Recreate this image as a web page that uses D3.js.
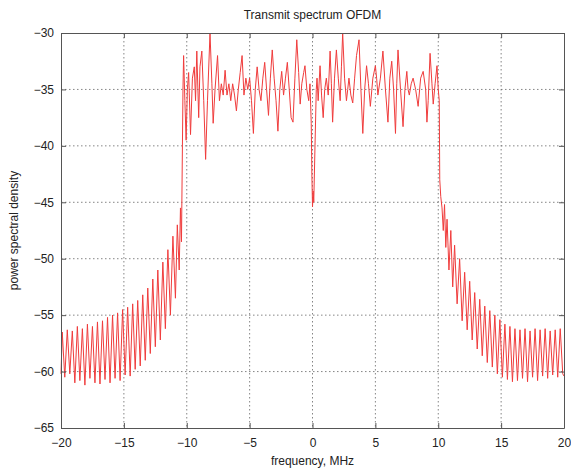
<!DOCTYPE html>
<html><head><meta charset="utf-8">
<script src="https://cdn.jsdelivr.net/npm/d3@7"></script>
<style>body{margin:0;background:#fff}svg{display:block}text{font-family:"Liberation Sans",Arial,sans-serif;fill:#222}</style>
</head><body>
<svg id="c" width="571" height="472"></svg>
<script>
const title = "Transmit spectrum OFDM";
const xLabel = "frequency, MHz";
const yLabel = "power spectral density";
const xTicks = [-20,-15,-10,-5,0,5,10,15,20];
const yTicks = [-30,-35,-40,-45,-50,-55,-60,-65];

// [frequency MHz, PSD dB]
const leftSkirt = [
[-20.0,-60.2],[-19.9,-56.5],[-19.7,-60.5],[-19.5,-56.3],[-19.3,-60.2],[-19.1,-56.4],[-18.9,-61],[-18.7,-56],
[-18.5,-60.8],[-18.3,-56.2],[-18.1,-61.2],[-17.9,-55.8],[-17.7,-60.6],[-17.5,-56],[-17.3,-61],[-17.1,-55.6],
[-16.9,-61.1],[-16.7,-55.5],[-16.5,-60.7],[-16.3,-55.2],[-16.1,-61],[-15.9,-55],[-15.7,-60.6],[-15.5,-54.8],
[-15.3,-60.8],[-15.1,-54.5],[-14.9,-60.3],[-14.7,-54.3],[-14.5,-60.4],[-14.3,-54],[-14.1,-59.8],[-13.9,-53.7],
[-13.7,-59.5],[-13.5,-53.2],[-13.3,-59],[-13.1,-52.6],[-12.9,-58.4],[-12.7,-51.8],[-12.5,-57.8],[-12.3,-51],
[-12.1,-57.2],[-11.9,-50.3],[-11.7,-56.2],[-11.5,-49.2],[-11.3,-55],[-11.1,-48],[-10.9,-53.5],[-10.75,-47],
[-10.6,-51],[-10.5,-45.5],[-10.42,-48.5],[-10.38,-44]
];
const passband = [
[-10.3,-35],[-10.25,-32],[-10.15,-36],[-10.05,-39.5],[-9.95,-35],[-9.85,-33.5],[-9.7,-39],[-9.55,-34],
[-9.4,-33],[-9.3,-36],[-9.2,-31.6],[-9.05,-37.5],[-8.95,-33],[-8.8,-31.6],[-8.65,-36],[-8.5,-41.2],
[-8.35,-36],[-8.15,-30],[-8.0,-34.5],[-7.9,-38],[-7.75,-35],[-7.55,-32],[-7.4,-36],[-7.25,-34.5],
[-7.1,-35.5],[-6.95,-33.3],[-6.8,-35.5],[-6.65,-34.5],[-6.5,-36],[-6.35,-34.5],[-6.2,-35.5],[-6.05,-36.9],
[-5.9,-35],[-5.75,-33.5],[-5.6,-32],[-5.45,-35.5],[-5.3,-34],[-5.15,-35],[-5.0,-34],[-4.85,-36],
[-4.7,-38.9],[-4.55,-35],[-4.4,-33],[-4.25,-35],[-4.1,-36],[-3.95,-34],[-3.8,-32.6],[-3.65,-35],
[-3.5,-37.3],[-3.35,-34],[-3.2,-31.5],[-3.05,-34],[-2.9,-36],[-2.75,-38.7],[-2.6,-35],[-2.45,-33.4],
[-2.3,-35.5],[-2.15,-34],[-2.0,-32.6],[-1.85,-35],[-1.7,-37.5],[-1.55,-37.9],[-1.4,-34],[-1.25,-30.6],
[-1.1,-33.5],[-0.98,-36.3],[-0.85,-34.5],[-0.7,-33.5],[-0.6,-32.9],[-0.45,-35],[-0.3,-36],[-0.2,-34.5],
[-0.1,-38],[-0.05,-42.5],[0.0,-45.4],[0.05,-44],[0.1,-45],[0.2,-40],[0.3,-35],[0.36,-34],
[0.45,-36],[0.6,-32.9],[0.72,-35.5],[0.85,-37.5],[0.97,-35],[1.1,-34],[1.25,-35.5],[1.4,-31.6],
[1.5,-34.5],[1.6,-37.9],[1.75,-34],[1.9,-31.5],[2.05,-34],[2.2,-36],[2.3,-33],[2.4,-30],
[2.55,-34],[2.7,-36],[2.8,-35],[2.9,-34],[3.05,-35.5],[3.2,-36.2],[3.35,-34],[3.5,-32],
[3.7,-30.6],[3.85,-35],[4.0,-38.9],[4.15,-35],[4.3,-32.9],[4.45,-34.5],[4.6,-36.5],[4.8,-34],
[5.0,-32.9],[5.1,-34],[5.2,-35.5],[5.4,-34],[5.6,-31.6],[5.8,-35],[6.0,-37.9],[6.15,-34],
[6.3,-32.5],[6.45,-35],[6.6,-38.9],[6.7,-34.5],[6.8,-31.5],[7.0,-35],[7.2,-38.3],[7.35,-35],
[7.5,-33.4],[7.6,-35],[7.7,-35.5],[7.85,-34.5],[8.0,-34],[8.2,-35],[8.4,-36.5],[8.6,-34],
[8.8,-33.4],[9.0,-35],[9.1,-37.9],[9.2,-36],[9.35,-31.8],[9.5,-34.5],[9.6,-36.3],[9.75,-34.5],
[9.9,-32.9],[10.0,-35],[10.08,-36]
];
const rightSkirt = [
[10.12,-43],[10.2,-44.5],[10.3,-45.5],[10.4,-47.5],[10.5,-45.2],[10.6,-49],[10.7,-46.5],[10.85,-51],
[11.0,-47.5],[11.15,-52.5],[11.3,-48.8],[11.5,-54],[11.7,-50],[11.9,-55.5],[12.1,-51.2],[12.3,-56.3],
[12.5,-52],[12.7,-57.2],[12.9,-53],[13.1,-58],[13.3,-53.6],[13.5,-58.6],[13.7,-54.2],[13.9,-59.2],
[14.1,-54.6],[14.3,-59.6],[14.5,-55],[14.7,-60.2],[14.9,-55.4],[15.1,-60.5],[15.3,-55.8],[15.5,-60.7],
[15.7,-56],[15.9,-60.9],[16.1,-56.2],[16.3,-60.8],[16.5,-56.3],[16.7,-60.6],[16.9,-56.2],[17.1,-60.9],
[17.3,-56.4],[17.5,-60.5],[17.7,-56.2],[17.9,-60.8],[18.1,-56.3],[18.3,-60.4],[18.5,-56.2],[18.7,-60.6],
[18.9,-56.4],[19.1,-60.3],[19.3,-56.3],[19.5,-60.5],[19.7,-56.2],[19.9,-60.2],[20.0,-60.4]
];

const spectrum = leftSkirt.concat(passband, rightSkirt);

const m = {l:61, r:564, t:33, b:428};
const svg = d3.select("#c");
const x = d3.scaleLinear().domain([-20,20]).range([m.l, m.r]);
const y = d3.scaleLinear().domain([-65,-30]).range([m.b, m.t]);

// grid
const g = svg.append("g");
g.selectAll(".gx").data(xTicks.slice(1,-1)).join("line")
  .attr("x1",d=>x(d)).attr("x2",d=>x(d)).attr("y1",m.t).attr("y2",m.b)
  .attr("stroke","#666").attr("stroke-width",0.8).attr("stroke-dasharray","1.5,2.5");
g.selectAll(".gy").data(yTicks.slice(1,-1)).join("line")
  .attr("y1",d=>y(d)).attr("y2",d=>y(d)).attr("x1",m.l).attr("x2",m.r)
  .attr("stroke","#666").attr("stroke-width",0.8).attr("stroke-dasharray","1.5,2.5");

// line
svg.append("path").datum(spectrum)
  .attr("fill","none").attr("stroke","#f03c3c").attr("stroke-width",1)
  .attr("stroke-linejoin","round")
  .attr("d", d3.line().x(d=>x(d[0])).y(d=>y(d[1])));

// axes
svg.append("g").attr("transform",`translate(0,${m.b})`)
  .call(d3.axisBottom(x).tickValues(xTicks).tickSizeInner(-5).tickSizeOuter(0).tickPadding(10));
svg.append("g").attr("transform",`translate(0,${m.t})`)
  .call(d3.axisTop(x).tickValues(xTicks).tickSizeInner(-5).tickSizeOuter(0).tickFormat(""));
svg.append("g").attr("transform",`translate(${m.l},0)`)
  .call(d3.axisLeft(y).tickValues(yTicks).tickSizeInner(-5).tickSizeOuter(0).tickPadding(7));
svg.append("g").attr("transform",`translate(${m.r},0)`)
  .call(d3.axisRight(y).tickValues(yTicks).tickSizeInner(-5).tickSizeOuter(0).tickFormat(""));
svg.selectAll(".domain, .tick line").attr("stroke","#555");
svg.selectAll(".tick text").attr("font-size",12).attr("fill","#222")
  .style("font-family","'Liberation Sans',Arial,sans-serif");

svg.append("text").attr("x",(m.l+m.r)/2).attr("y",19).attr("text-anchor","middle")
  .attr("font-size",12).text(title);
svg.append("text").attr("x",(m.l+m.r)/2).attr("y",465).attr("text-anchor","middle")
  .attr("font-size",12).text(xLabel);
svg.append("text").attr("transform",`translate(18,${(m.t+m.b)/2}) rotate(-90)`)
  .attr("text-anchor","middle").attr("font-size",12).text(yLabel);
</script>
</body></html>
